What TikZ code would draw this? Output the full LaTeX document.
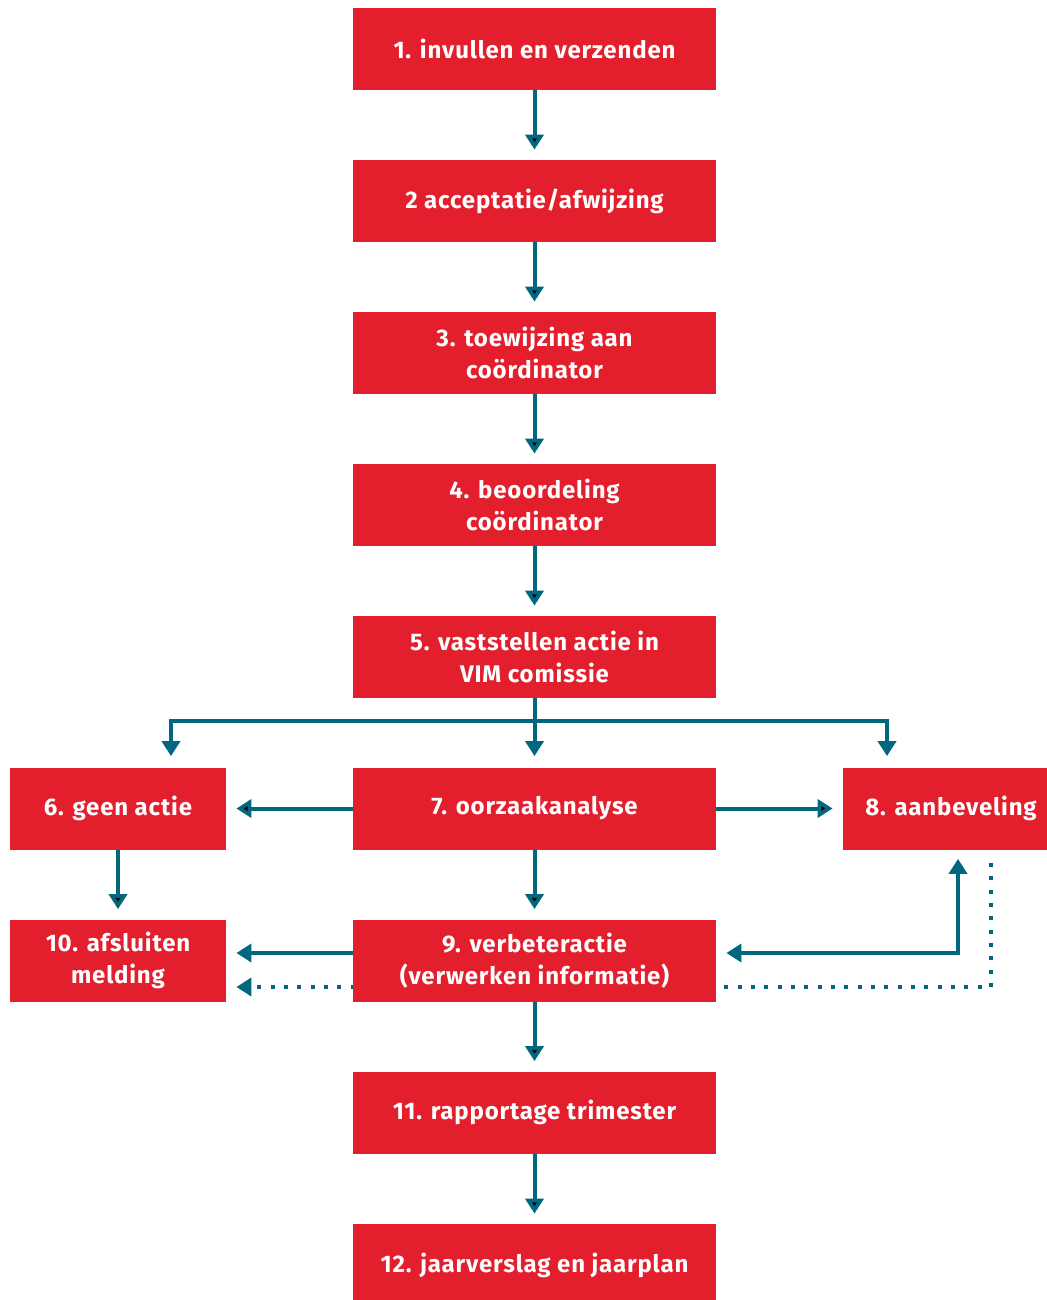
\documentclass[tikz,border=0pt]{standalone}
\usepackage{fontspec}
\setmainfont{Fira Sans}[LetterSpace=3.5]
\usepackage{tikz}
\usetikzlibrary{arrows.meta,positioning,backgrounds}

\definecolor{vimred}{RGB}{227,30,45}
\definecolor{vimteal}{RGB}{0,103,127}

\begin{document}
\begin{tikzpicture}[x=0.5pt, y=-0.5pt,
  stap/.style={rectangle, fill=vimred, text=white, inner sep=0pt, align=center,
    minimum width=181.5pt, minimum height=41pt,
    font=\bfseries\fontsize{12}{16}\selectfont},
  zij/.style={stap, minimum width=108pt},
  pijl/.style={draw=vimteal, line width=2pt, shorten >=5pt,
    -{Triangle[width=9pt,length=7.5pt]}},
  tweepijl/.style={pijl, shorten <=5pt,
    {Triangle[width=9pt,length=7.5pt]}-{Triangle[width=9pt,length=7.5pt]}},
  stip/.style={pijl, dash pattern=on 2pt off 4.67pt}]
   \useasboundingbox (0,0) rectangle (1046,1300);

   \node[stap] (n1) at (534.5,49) {1. invullen en verzenden};
   \node[stap] (n2) at (534.5,201) {2 acceptatie/afwijzing};
   \node[stap] (n3) at (534.5,353) {3. toewijzing aan\\coördinator};
   \node[stap] (n4) at (534.5,505) {4. beoordeling\\coördinator};
   \node[stap] (n5) at (534.5,657) {5. vaststellen actie in\\VIM comissie};
   \node[zij] (n6) at (118,808.5) {6. geen actie};
   \node[stap] (n7) at (534.5,808.5) {7. oorzaakanalyse};
   \node[zij] (n8) at (951,808.5) {8. aanbeveling};
   \node[stap] (n9) at (534.5,960.5) {9. verbeteractie\\(verwerken informatie)};
   \node[zij] (n10) at (118,960.5) {10. afsluiten\\melding};
   \node[stap] (n11) at (534.5,1112.5) {11. rapportage trimester};
   \node[stap] (n12) at (534.5,1265) {12. jaarverslag en jaarplan};

   \coordinate (split) at (534.5,721);

  \path[pijl]
    (n1) edge (n2)
    (n2) edge (n3)
    (n3) edge (n4)
    (n4) edge (n5)
    (n7) edge (n6)
    (n7) edge (n8)
    (n6) edge (n10)
    (n7) edge (n9)
    (n9) edge (n11)
    (n11) edge (n12);

  \draw[pijl, shorten >=5.5pt] (n5.south) -- (split) -| ([xshift=26.5pt]n6.north);
  \draw[pijl, shorten >=5.5pt] (split) -- (n7.north);
  \draw[pijl, shorten >=5.5pt] (split) -| ([xshift=-32pt]n8.north);
  \draw[pijl] ([yshift=3.75pt]n9.west) -- ([yshift=3.75pt]n10.east);
  \draw[tweepijl, shorten >=4.5pt] ([yshift=3.75pt]n9.east) -| ([xshift=3.5pt]n8.south);

  \begin{scope}[on background layer]
    \draw[stip, shorten <=6.5pt] ([xshift=20pt]n8.south) |- ([yshift=-13.25pt]n10.east);
  \end{scope}
  \end{tikzpicture}
\end{document}
